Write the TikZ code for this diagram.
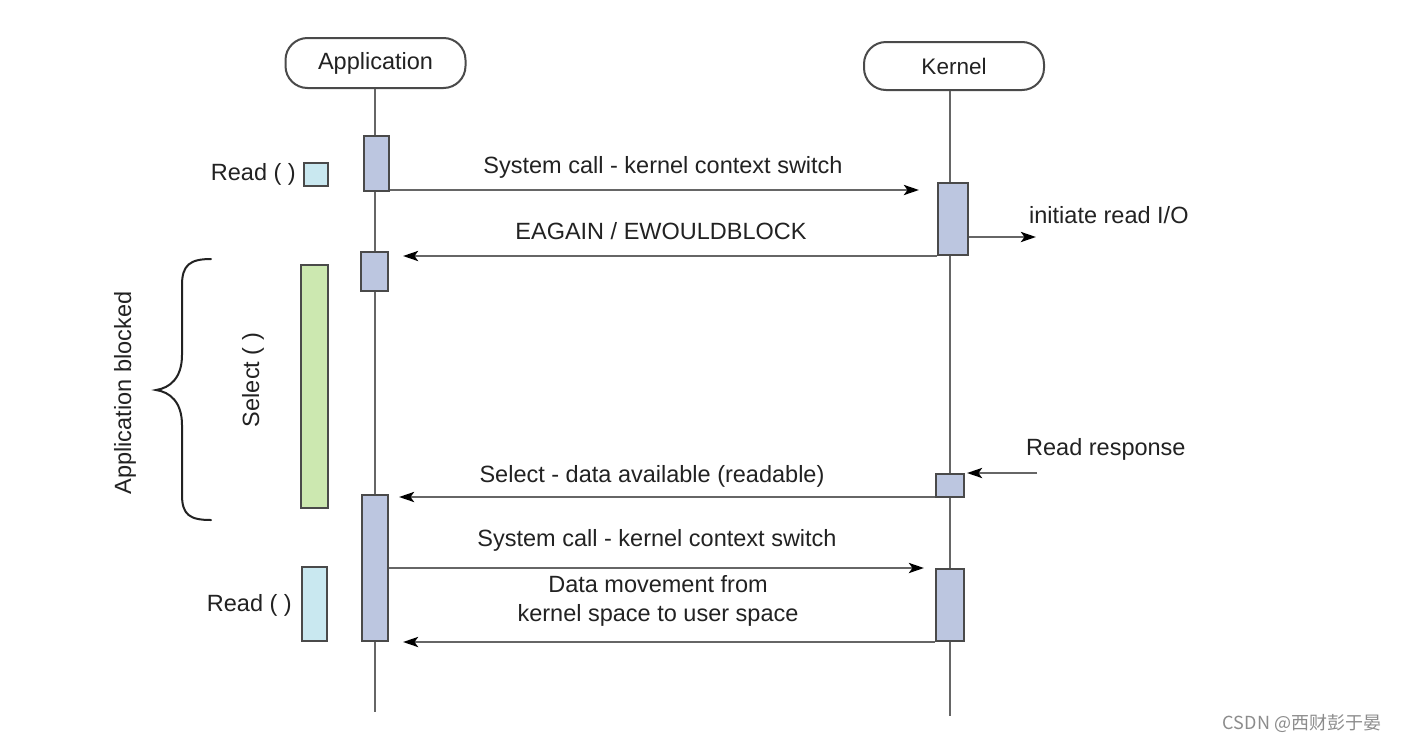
\documentclass[tikz,border=0pt]{standalone}
\usepackage{fontspec}
\setmainfont{Liberation Sans}
\newfontfamily\cjkfont{Noto Sans CJK SC}
\usetikzlibrary{arrows.meta,calc}
\definecolor{linegray}{HTML}{666666}
\definecolor{boxgray}{HTML}{4A4A4A}
\definecolor{actfill}{HTML}{BCC6E0}
\definecolor{readfill}{HTML}{C9E8F0}
\definecolor{selfill}{HTML}{CCE8B0}
\definecolor{txtgray}{HTML}{222222}
\tikzset{
  lbl/.style={font=\fontsize{23.5}{29}\selectfont, text=txtgray, inner sep=0pt},
  actor/.style={draw=boxgray, line width=2pt, rounded corners=22pt, minimum width=180pt, minimum height=50pt, inner sep=0pt, font=\fontsize{23.5}{29}\selectfont, text=txtgray},
  act/.style={draw=boxgray, line width=2pt, fill=actfill, inner sep=0pt},
  life/.style={draw=linegray, line width=2.8pt},
  msg/.style={draw=linegray, line width=2.8pt, -{Stealth[length=15pt,width=10pt,inset=3.5pt]}, color=linegray, arrows={[fill=black, color=black]}},
  sidebox/.style={draw=boxgray, line width=2pt, inner sep=0pt},
}
\begin{document}
\begin{tikzpicture}[x=1pt,y=-1pt]
\useasboundingbox (0,0) rectangle (1402,742);
\fill[white] (0,0) rectangle (1402,742);

% actors
\node[actor] (app) at (375.5,63) {Application};
\node[actor, minimum width=180pt, minimum height=48pt] (ker) at (954,66) {\fontsize{22.5}{28}\selectfont Kernel};

% lifelines
\coordinate (append) at (375,712);
\coordinate (kerend) at (950,716);
\draw[life] (app.south -| append) -- (append);
\draw[life] (ker.south -| kerend) -- (kerend);

% activations
\node[act, minimum width=25pt, minimum height=55pt] (a1) at (376.5,163.5) {};
\node[act, minimum width=27pt, minimum height=39pt] (a2) at (374.5,271.5) {};
\node[act, minimum width=26pt, minimum height=146pt] (a3) at (375,568) {};
\node[act, minimum width=30pt, minimum height=72pt] (k1) at (953,219) {};
\node[act, minimum width=28pt, minimum height=23pt] (k2) at (950,485.5) {};
\node[act, minimum width=28pt, minimum height=72pt] (k3) at (950,605) {};

% messages
\draw[msg, shorten >=18pt] ($(a1.south east)+(0,-2)$) -- ($(k1.west |- a1.south east)+(0,-2)$);
\node[lbl] (m1) at (663,167) {System call - kernel context switch};

\draw[msg, shorten >=14pt] (k1.south west) -- (a2.east |- k1.south west);
\node[lbl] (m2) at (661,231) {EAGAIN / EWOULDBLOCK};

\coordinate (io) at (1036,237);
\draw[msg] (k1.east |- io) -- (io);
\node[lbl, anchor=west] (m3) at (1029,215) {initiate read I/O};

\coordinate (rr) at (1037,473);
\draw[msg, shorten >=2pt] (rr) -- (k2.east |- rr);
\node[lbl, anchor=west] (m4) at (1026,449) {Read response};

\draw[msg, shorten >=10pt] ($(k2.south west)+(0,-1)$) -- ($(a3.east |- k2.south west)+(0,-1)$);
\node[lbl] (m5) at (652,476) {Select - data available (readable)};

\draw[msg, shorten >=11pt] (a3.east) -- (k3.west |- a3.east);
\node[lbl] (m6) at (657,540) {System call - kernel context switch};

\draw[msg, shorten >=14pt] (k3.south west) -- (a3.south east);
\node[lbl, align=center] (m7) at (658,601) {Data movement from\\kernel space to user space};

% left side
\node[sidebox, fill=readfill, minimum width=24pt, minimum height=23pt] (r1box) at (316,174.5) {};
\node[lbl, anchor=east] (r1) at (296,174) {Read ( )};

\node[sidebox, fill=selfill, minimum width=27pt, minimum height=243pt] (selbox) at (314.5,386.5) {};
\node[lbl, rotate=90] (sel) at (253,380) {Select ( )};

\node[sidebox, fill=readfill, minimum width=25pt, minimum height=74pt] (r2box) at (314.5,604) {};
\node[lbl, anchor=east] (r2) at (292,605) {Read ( )};

% brace
\coordinate (bt) at (211,259);
\coordinate (bb) at (211,520);
\coordinate (btip) at (156,390);
\draw[draw=txtgray, line width=2pt, line cap=round]
  (bt) .. controls (190,259) and (182,265) .. (182,285)
  -- (182,355) .. controls (182,378) and (170,388) .. (btip)
  .. controls (170,392) and (182,402) .. (182,425)
  -- (182,495) .. controls (182,515) and (190,520) .. (bb);
\node[lbl, rotate=90] (blocked) at (125,393) {Application blocked};

% watermark
\node[font=\cjkfont\fontsize{18}{22}\selectfont, text=black!45, inner sep=0pt] (wm) at (1302,723) {CSDN @西财彭于晏};
\end{tikzpicture}
\end{document}
